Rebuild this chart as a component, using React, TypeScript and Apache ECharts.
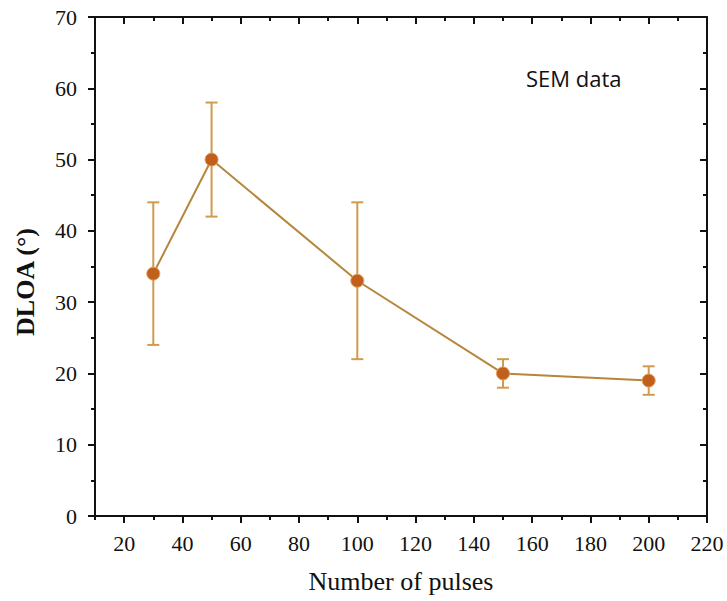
import React, { useEffect, useRef } from "react";
import * as echarts from "echarts";

const pulses = [30, 50, 100, 150, 200];
const dloa = [34, 50, 33, 20, 19];
const errLow = [24, 42, 22, 18, 17];
const errHigh = [44, 58, 44, 22, 21];
const xMajorTicks = [20, 40, 60, 80, 100, 120, 140, 160, 180, 200, 220];
const xMinorTicks = [10, 30, 50, 70, 90, 110, 130, 150, 170, 190, 210];

const FONT = "Liberation Serif";

export default function App() {
  const ref = useRef<HTMLDivElement>(null);
  useEffect(() => {
    if (!ref.current) return;
    const chart = echarts.init(ref.current, null, { renderer: "svg" });
    const axisLine = { show: true, lineStyle: { color: "#111", width: 2 } };
    const baseX = { type: "value", min: 10, max: 220, gridIndex: 0, splitLine: { show: false } };
    const baseY = { type: "value", min: 0, max: 70, interval: 10, splitLine: { show: false } };
    chart.setOption({
      animation: false,
      backgroundColor: "#fff",
      textStyle: { fontFamily: FONT },
      grid: { left: 95, right: 20, top: 17, bottom: 85, containLabel: false },
      xAxis: [
        {
          ...baseX,
          interval: 10,
          position: "bottom",
          axisLine,
          axisTick: { show: false },
          axisLabel: {
            show: true,
            margin: 16,
            color: "#111",
            fontSize: 22,
            fontFamily: FONT,
            formatter: (v: number) => (xMajorTicks.indexOf(Math.round(v)) >= 0 ? String(Math.round(v)) : ""),
          },
          name: "Number of pulses",
          nameLocation: "middle",
          nameGap: 52,
          nameTextStyle: { color: "#111", fontSize: 26, fontFamily: FONT },
        },
        {
          ...baseX,
          position: "bottom",
          axisLine: { show: false },
          axisTick: { show: true, inside: false, length: 7, customValues: xMajorTicks, lineStyle: { color: "#111", width: 2 } },
          axisLabel: { show: false },
        },
        {
          ...baseX,
          position: "bottom",
          axisLine: { show: false },
          axisTick: { show: true, inside: false, length: 4, customValues: xMinorTicks, lineStyle: { color: "#111", width: 2 } },
          axisLabel: { show: false },
        },
        {
          ...baseX,
          position: "top",
          axisLine,
          axisTick: { show: true, inside: true, length: 7, customValues: xMajorTicks, lineStyle: { color: "#111", width: 2 } },
          axisLabel: { show: false },
        },
        {
          ...baseX,
          position: "top",
          axisLine: { show: false },
          axisTick: { show: true, inside: true, length: 4, customValues: xMinorTicks, lineStyle: { color: "#111", width: 2 } },
          axisLabel: { show: false },
        },
      ],
      yAxis: [
        {
          ...baseY,
          position: "left",
          axisLine,
          axisTick: { show: true, inside: false, length: 7, lineStyle: { color: "#111", width: 2 } },
          minorTick: { show: true, splitNumber: 2, length: 4, lineStyle: { color: "#111", width: 2 } },
          axisLabel: { show: true, margin: 18, color: "#111", fontSize: 22, fontFamily: FONT },
        },
        {
          ...baseY,
          position: "right",
          axisLine,
          axisTick: { show: true, inside: true, length: 7, lineStyle: { color: "#111", width: 2 } },
          minorTick: { show: true, splitNumber: 2, length: 4, lineStyle: { color: "#111", width: 2 } },
          axisLabel: { show: false },
        },
      ],
      series: [
        {
          type: "custom",
          xAxisIndex: 0,
          yAxisIndex: 0,
          data: pulses.map((p, i) => [p, errLow[i], errHigh[i]]),
          renderItem: (params: any, api: any) => {
            const x = api.value(0);
            const lo = api.coord([x, api.value(1)]);
            const hi = api.coord([x, api.value(2)]);
            const hw = 6;
            const style = { stroke: "#d29a4f", lineWidth: 2 };
            return {
              type: "group",
              children: [
                { type: "line", shape: { x1: lo[0], y1: lo[1], x2: hi[0], y2: hi[1] }, style },
                { type: "line", shape: { x1: lo[0] - hw, y1: lo[1], x2: lo[0] + hw, y2: lo[1] }, style },
                { type: "line", shape: { x1: hi[0] - hw, y1: hi[1], x2: hi[0] + hw, y2: hi[1] }, style },
              ],
            };
          },
          z: 2,
        },
        {
          type: "line",
          xAxisIndex: 0,
          yAxisIndex: 0,
          data: pulses.map((p, i) => [p, dloa[i]]),
          symbol: "circle",
          symbolSize: 13,
          lineStyle: { color: "#b5863c", width: 2 },
          itemStyle: { color: "#c0601a", borderColor: "#e0a060", borderWidth: 1 },
          z: 3,
        },
      ],
      graphic: [
        {
          type: "text",
          x: 25,
          y: 282,
          rotation: Math.PI / 2,
          style: {
            text: "DLOA (°)",
            fill: "#111",
            font: "bold 26px 'Liberation Serif', serif",
            align: "center",
            verticalAlign: "middle",
          },
        },
        {
          type: "text",
          left: 526,
          top: 67,
          style: { text: "SEM data", fill: "#111", font: "22px 'Open Sans', 'Noto Sans', sans-serif" },
        },
      ],
    });
    return () => chart.dispose();
  }, []);
  return <div ref={ref} style={{ position: "fixed", left: 0, top: 0, width: 727, height: 601 }} />;
}
